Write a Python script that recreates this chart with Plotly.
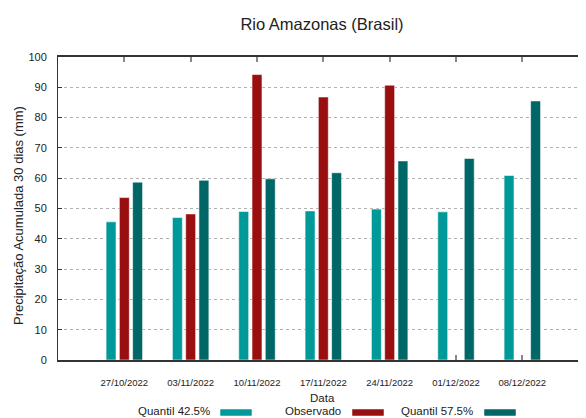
import plotly.graph_objects as go

datas = ["27/10/2022", "03/11/2022", "10/11/2022", "17/11/2022", "24/11/2022", "01/12/2022", "08/12/2022"]
quantil_425 = [45.6, 47.0, 49.0, 49.2, 49.8, 48.9, 60.9]
observado = [53.6, 48.2, 94.2, 86.8, 90.7, None, None]
quantil_575 = [58.7, 59.3, 59.8, 61.8, 65.7, 66.5, 85.5]
series_names = ["Quantil 42.5%", "Observado", "Quantil 57.5%"]
series_colors = ["#009999", "#990e0e", "#006666"]

OFF = 8  # default page body margin
W, H = 578, 410
L, R, T, B = 50, 0, 49, 58
pw, ph = W - L - R, H - T - B

def px(x):
    return (x - OFF - L) / pw

def py(y):
    return (H - B - (y - OFF)) / ph

FONT = "Liberation Sans, Arial, sans-serif"
TXT = "#222222"

fig = go.Figure()
for name, vals, col in zip(series_names, [quantil_425, observado, quantil_575], series_colors):
    fig.add_trace(go.Bar(
        x=datas, y=vals, name=name,
        marker=dict(color=col, line=dict(color="rgba(255,255,255,0.55)", width=1)),
        showlegend=False,
    ))

fig.update_layout(
    width=W, height=H,
    margin=dict(l=L, r=R, t=T, b=B),
    paper_bgcolor="white", plot_bgcolor="white",
    barmode="group", bargap=0.4, bargroupgap=0.25,
    font=dict(family=FONT, color=TXT),
    title=dict(text="Rio Amazonas (Brasil)", x=(322 - OFF) / W, xanchor="center",
               y=1 - (24 - OFF) / H, yanchor="middle", font=dict(size=16.5, color=TXT)),
    xaxis=dict(
        type="category", range=[-1, 6.96],
        showline=True, linecolor="#333333", linewidth=1.5, mirror="ticks",
        ticks="inside", ticklen=5, tickcolor="#888888", tickwidth=2,
        tickfont=dict(size=9.5, color=TXT), ticklabelstandoff=13,
        showgrid=False, zeroline=False, layer="below traces",
    ),
    yaxis=dict(
        range=[0, 100], dtick=10,
        showline=True, linecolor="#333333", linewidth=1,
        ticks="inside", ticklen=4, tickcolor="#333333", tickwidth=1,
        showgrid=True, gridcolor="#b0b0b0", griddash="dot", gridwidth=1,
        tickfont=dict(size=11, color=TXT), ticklabelstandoff=8,
        zeroline=False,
    ),
)

ann = []
ann.append(dict(text="Data", x=px(322), y=py(398), xref="paper", yref="paper",
                xanchor="center", yanchor="middle", showarrow=False,
                font=dict(size=11.5, color=TXT, family=FONT)))
ann.append(dict(text="Precipitação Acumulada 30 dias (mm)", x=px(18), y=py(216),
                xref="paper", yref="paper", textangle=-90, xanchor="center",
                yanchor="middle", showarrow=False,
                font=dict(size=13, color=TXT, family=FONT)))

text_ends = [212, 343, 475]
sw_x0 = [220, 352, 484]
shapes = []
for name, col, te, sx in zip(series_names, series_colors, text_ends, sw_x0):
    ann.append(dict(text=name, x=px(te), y=py(411), xref="paper", yref="paper",
                    xanchor="right", yanchor="middle", showarrow=False,
                    font=dict(size=11.5, color=TXT, family=FONT)))
    shapes.append(dict(type="rect", xref="paper", yref="paper",
                       x0=px(sx), x1=px(sx + 32), y0=py(416), y1=py(409),
                       fillcolor=col, line=dict(color="rgba(255,255,255,0.5)", width=1)))

fig.update_layout(annotations=ann, shapes=shapes)
fig.write_html("out.html")
